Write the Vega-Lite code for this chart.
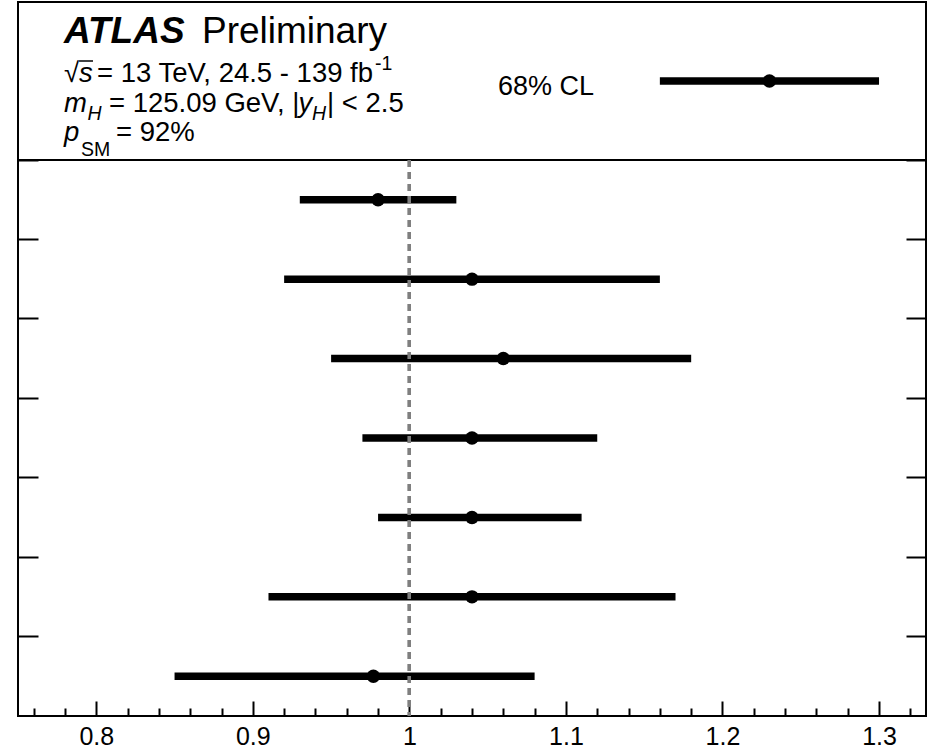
{
  "$schema": "https://vega.github.io/schema/vega-lite/v6.json",
  "autosize": {"type": "pad"},
  "padding": {"left": 16, "top": 1, "right": 5, "bottom": 3},
  "background": "white",
  "bounds": "flush",
  "spacing": 0,
  "config": {
    "view": {"stroke": "black", "strokeWidth": 2},
    "font": "Liberation Sans",
    "text": {"font": "Liberation Sans", "color": "black", "align": "left", "baseline": "alphabetic"}
  },
  "datasets": {
    "bins": [
      {"bin": 1, "value": 0.98, "lo": 0.93, "hi": 1.03},
      {"bin": 2, "value": 1.04, "lo": 0.92, "hi": 1.16},
      {"bin": 3, "value": 1.06, "lo": 0.95, "hi": 1.18},
      {"bin": 4, "value": 1.04, "lo": 0.97, "hi": 1.12},
      {"bin": 5, "value": 1.04, "lo": 0.98, "hi": 1.11},
      {"bin": 6, "value": 1.04, "lo": 0.91, "hi": 1.17},
      {"bin": 7, "value": 0.977, "lo": 0.85, "hi": 1.08}
    ],
    "legend": [
      {"label": "68% CL", "value": 1.23, "lo": 1.16, "hi": 1.30}
    ]
  },
  "vconcat": [
    {
      "width": 908,
      "height": 158,
      "data": {"name": "legend"},
      "layer": [
        {
          "mark": {"type": "text", "fontSize": 37, "fontWeight": "bold", "fontStyle": "italic"},
          "encoding": {
            "x": {"datum": 0.7794, "type": "quantitative", "scale": {"domain": [0.75, 1.33], "nice": false, "zero": false}, "axis": null},
            "y": {"datum": 0.2595, "type": "quantitative", "scale": {"domain": [0, 1], "reverse": true, "nice": false}, "axis": null},
            "text": {"value": "ATLAS"}
          }
        },
        {
          "mark": {"type": "text", "fontSize": 37},
          "encoding": {"x": {"datum": 0.8675}, "y": {"datum": 0.2595}, "text": {"value": "Preliminary"}}
        },
        {
          "mark": {"type": "text", "fontSize": 27.5},
          "encoding": {"x": {"datum": 0.7794}, "y": {"datum": 0.5063}, "text": {"value": "√"}}
        },
        {
          "mark": {"type": "rule", "color": "black", "strokeWidth": 1.5},
          "encoding": {"x": {"datum": 0.7890}, "x2": {"datum": 0.7979}, "y": {"datum": 0.3734}}
        },
        {
          "mark": {"type": "text", "fontSize": 27.5, "fontStyle": "italic"},
          "encoding": {"x": {"datum": 0.7890}, "y": {"datum": 0.5063}, "text": {"value": "s"}}
        },
        {
          "mark": {"type": "text", "fontSize": 27.5},
          "encoding": {"x": {"datum": 0.8005}, "y": {"datum": 0.5063}, "text": {"value": "= 13 TeV, 24.5 - 139 fb"}}
        },
        {
          "mark": {"type": "text", "fontSize": 19.5},
          "encoding": {"x": {"datum": 0.9780}, "y": {"datum": 0.4304}, "text": {"value": "-1"}}
        },
        {
          "mark": {"type": "text", "fontSize": 27.5, "fontStyle": "italic"},
          "encoding": {"x": {"datum": 0.7794}, "y": {"datum": 0.6962}, "text": {"value": "m"}}
        },
        {
          "mark": {"type": "text", "fontSize": 19.5, "fontStyle": "italic"},
          "encoding": {"x": {"datum": 0.7944}, "y": {"datum": 0.7468}, "text": {"value": "H"}}
        },
        {
          "mark": {"type": "text", "fontSize": 27.5},
          "encoding": {"x": {"datum": 0.8081}, "y": {"datum": 0.6962}, "text": {"value": "= 125.09 GeV, |"}}
        },
        {
          "mark": {"type": "text", "fontSize": 27.5, "fontStyle": "italic"},
          "encoding": {"x": {"datum": 0.9292}, "y": {"datum": 0.6962}, "text": {"value": "y"}}
        },
        {
          "mark": {"type": "text", "fontSize": 19.5, "fontStyle": "italic"},
          "encoding": {"x": {"datum": 0.9378}, "y": {"datum": 0.7468}, "text": {"value": "H"}}
        },
        {
          "mark": {"type": "text", "fontSize": 27.5},
          "encoding": {"x": {"datum": 0.9474}, "y": {"datum": 0.6962}, "text": {"value": "| < 2.5"}}
        },
        {
          "mark": {"type": "text", "fontSize": 27.5, "fontStyle": "italic"},
          "encoding": {"x": {"datum": 0.7794}, "y": {"datum": 0.8797}, "text": {"value": "p"}}
        },
        {
          "mark": {"type": "text", "fontSize": 19.5},
          "encoding": {"x": {"datum": 0.7902}, "y": {"datum": 0.9747}, "text": {"value": "SM"}}
        },
        {
          "mark": {"type": "text", "fontSize": 27.5},
          "encoding": {"x": {"datum": 0.8126}, "y": {"datum": 0.8797}, "text": {"value": "= 92%"}}
        },
        {
          "mark": {"type": "text", "fontSize": 27},
          "encoding": {"x": {"datum": 1.0566}, "y": {"datum": 0.5886}, "text": {"field": "label"}}
        },
        {
          "mark": {"type": "rule", "color": "black", "strokeWidth": 7.5},
          "encoding": {"x": {"field": "lo", "type": "quantitative"}, "x2": {"field": "hi"}, "y": {"datum": 0.5}}
        },
        {
          "mark": {"type": "point", "shape": "circle", "filled": true, "opacity": 1, "color": "black", "size": 180},
          "encoding": {"x": {"field": "value", "type": "quantitative"}, "y": {"datum": 0.5}}
        }
      ]
    },
    {
      "width": 908,
      "height": 556,
      "data": {"name": "bins"},
      "layer": [
        {
          "mark": {"type": "rule", "color": "black", "strokeWidth": 7.5},
          "encoding": {
            "x": {
              "field": "lo",
              "type": "quantitative",
              "scale": {"domain": [0.75, 1.33], "nice": false, "zero": false},
              "axis": {
                "orient": "bottom",
                "title": null,
                "grid": false,
                "domain": false,
                "labels": false,
                "values": [0.76, 0.78, 0.82, 0.84, 0.86, 0.88, 0.92, 0.94, 0.96, 0.98, 1.02, 1.04, 1.06, 1.08, 1.12, 1.14, 1.16, 1.18, 1.22, 1.24, 1.26, 1.28, 1.32],
                "tickColor": "black",
                "tickWidth": 2,
                "tickSize": -8
              }
            },
            "x2": {"field": "hi"},
            "y": {
              "field": "bin",
              "type": "ordinal",
              "scale": {"paddingInner": 0, "paddingOuter": 0},
              "axis": {"orient": "left", "title": null, "labels": false, "domain": false, "grid": false, "tickSize": -20, "tickWidth": 2, "tickColor": "black", "bandPosition": 0}
            }
          }
        },
        {
          "mark": {"type": "point", "shape": "circle", "filled": true, "opacity": 1, "color": "black", "size": 180},
          "encoding": {
            "x": {
              "field": "value",
              "type": "quantitative",
              "axis": {
                "orient": "bottom",
                "title": null,
                "grid": false,
                "domain": false,
                "values": [0.8, 0.9, 1, 1.1, 1.2, 1.3],
                "tickColor": "black",
                "tickWidth": 2,
                "tickSize": -15,
                "labelExpr": "toString(datum.value)",
                "labelFont": "Liberation Sans",
                "labelFontSize": 25,
                "labelColor": "black",
                "labelPadding": 23,
                "labelOverlap": false,
                "labelBound": false,
                "labelFlush": false
              }
            },
            "y": {
              "field": "bin",
              "type": "ordinal",
              "axis": {"orient": "right", "title": null, "labels": false, "domain": false, "grid": false, "tickSize": -20, "tickWidth": 2, "tickColor": "black", "bandPosition": 0}
            }
          }
        },
        {
          "mark": {"type": "rule", "color": "#7f7f7f", "strokeWidth": 3, "strokeDash": [7, 5]},
          "encoding": {"x": {"datum": 1, "type": "quantitative", "axis": null}}
        }
      ],
      "resolve": {"axis": {"x": "independent", "y": "independent"}}
    }
  ]
}
